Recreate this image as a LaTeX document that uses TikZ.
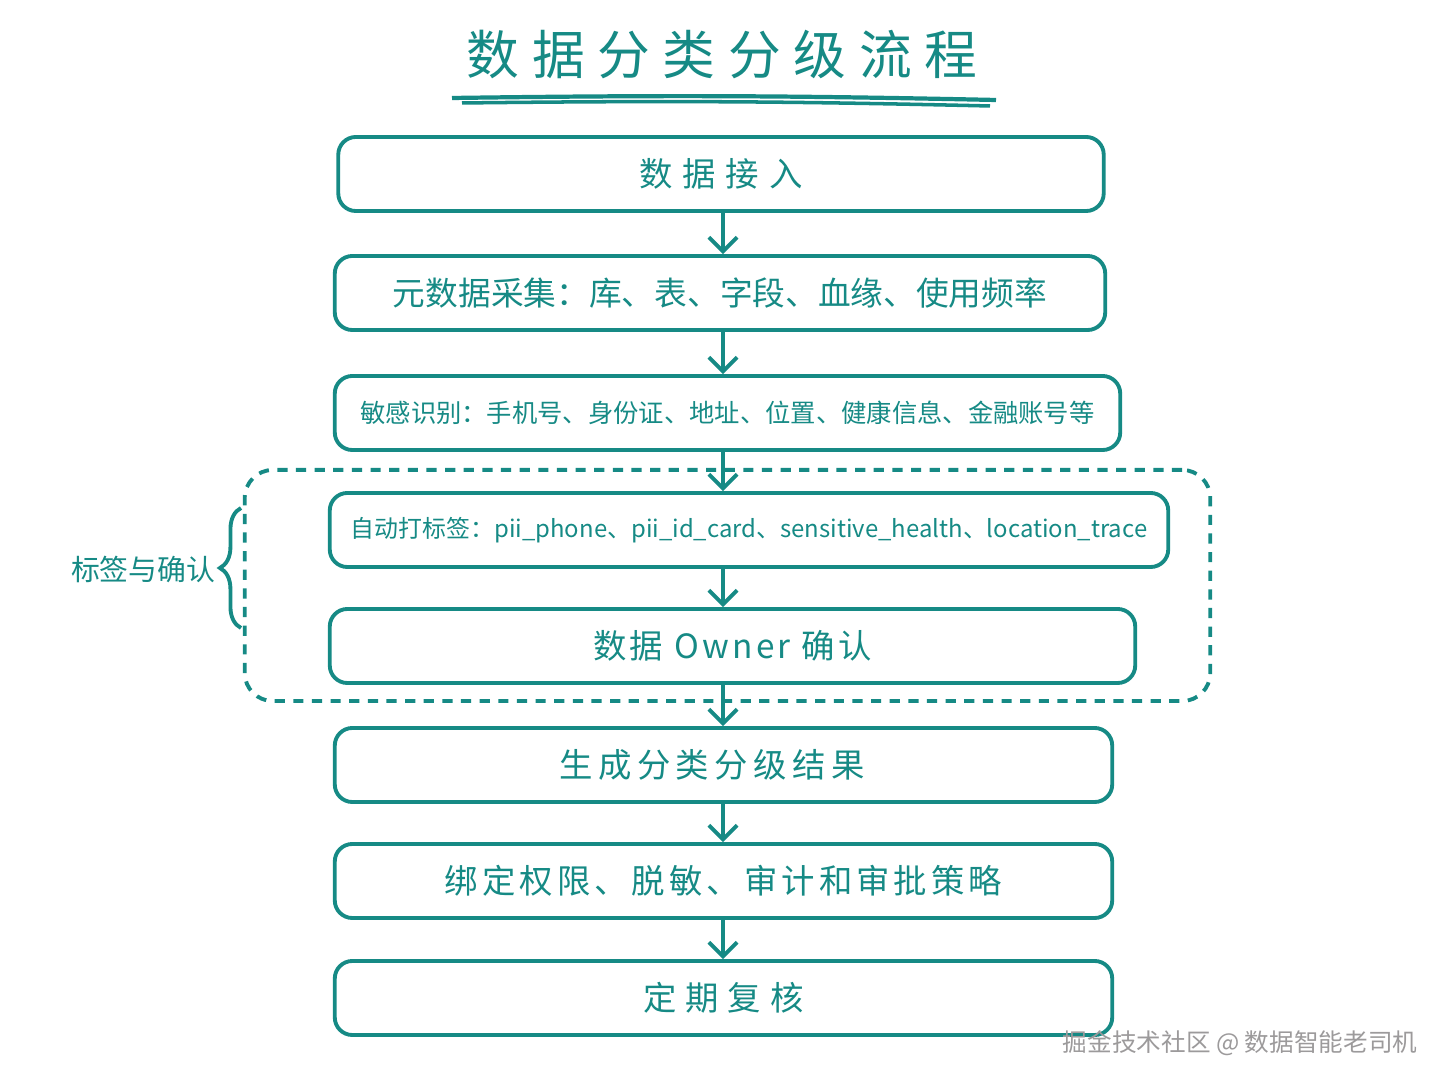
\documentclass[tikz,border=0pt]{standalone}
\usepackage{fontspec}
\setmainfont{Noto Sans CJK SC}
\usetikzlibrary{arrows.meta,decorations.pathreplacing}
\definecolor{ink}{HTML}{168A85}
\definecolor{wmgrey}{cmyk}{0,0,0,0.45}

\begin{document}
\begin{tikzpicture}[x=0.01cm,y=-0.01cm]
    \tikzset{%
      proc/.style={draw=ink, line width=1.1pt, rounded corners=5pt,
        minimum height=0.74cm, text=ink, inner sep=0pt},
      flow/.style={draw=ink, line width=1.1pt,
        -{Straight Barb[length=4pt,width=8pt,line width=1.1pt]}},
      frame/.style={draw=ink, line width=1.1pt, rounded corners=8pt,
        dash pattern=on 2.9pt off 2.4pt, minimum width=9.65cm,
        minimum height=2.31cm, inner sep=0pt},
      big/.style={font={\fontsize{9.5}{11}\selectfont\addfontfeatures{LetterSpace=#1}}},
      big/.default=0,
    }
    \useasboundingbox (0,0) rectangle (1448,1086);

    % title
    \node[text=ink, font={\fontsize{15}{18}\selectfont\addfontfeatures{LetterSpace=24}}]
      (title) at (722,55) {数据分类分级流程};
    \coordinate (u1a) at (452,98);
    \coordinate (u1b) at (996,100);
    \coordinate (u2a) at (462,103);
    \coordinate (u2b) at (990,106);
    \draw[ink, line width=1.2pt] (u1a) to[bend left=1] (u1b);
    \draw[ink, line width=1pt] (u2a) to[bend left=1] (u2b);

    % process steps
    \node[proc, minimum width=7.65cm, big=30] (A) at (721,174) {数据接入};
    \node[proc, minimum width=7.70cm, font={\fontsize{9.3}{11}\selectfont}]
      (B) at (720,293) {元数据采集：库、表、字段、血缘、使用频率};
    \node[proc, minimum width=7.85cm, font={\fontsize{7.2}{9}\selectfont}]
      (C) at (727.5,413) {敏感识别：手机号、身份证、地址、位置、健康信息、金融账号等};
    \node[proc, minimum width=8.38cm, font={\fontsize{6.8}{8}\selectfont}]
      (D) at (749,530) {自动打标签：pii\_phone、pii\_id\_card、sensitive\_health、location\_trace};
    \node[proc, minimum width=8.05cm, big=10]
      (E) at (732.5,646) {数据 Owner 确认};
    \node[proc, minimum width=7.77cm, big=16] (F) at (723.5,765) {\hspace*{-6.5pt}生成分类分级结果};
    \node[proc, minimum width=7.77cm, big=12] (G) at (723.5,881) {绑定权限、脱敏、审计和审批策略};
    \node[proc, minimum width=7.77cm, big=27] (H) at (723.5,998) {定期复核};

    % connectors
    \coordinate (axis) at (723,0);
    \draw[flow] (A.south -| axis) -- (B.north -| axis);
    \draw[flow] (B.south -| axis) -- (C.north -| axis);
    \draw[flow] (C.south -| axis) -- (D.north -| axis);
    \draw[flow] (D.south -| axis) -- (E.north -| axis);
    \draw[flow] (E.south -| axis) -- (F.north -| axis);
    \draw[flow] (F.south -| axis) -- (G.north -| axis);
    \draw[flow] (G.south -| axis) -- (H.north -| axis);

    % tagging group
    \node[frame] (grp) at (727.5,585.5) {};
    \coordinate (br1) at (241,628);
    \coordinate (br2) at (241,508);
    \draw[ink, line width=1.1pt, decorate,
      decoration={brace, amplitude=6pt}] (br1) -- (br2);
    \node[text=ink, anchor=east, inner sep=0pt,
      font={\fontsize{8.2}{10}\selectfont}] (lab) at (216,569) {标签与确认};

    % watermark
    \node[text=wmgrey, anchor=east, inner sep=0pt,
      font={\fontsize{7}{8}\selectfont}] (wm) at (1418,1043)
      {掘金技术社区 @ 数据智能老司机};
\end{tikzpicture}
\end{document}
